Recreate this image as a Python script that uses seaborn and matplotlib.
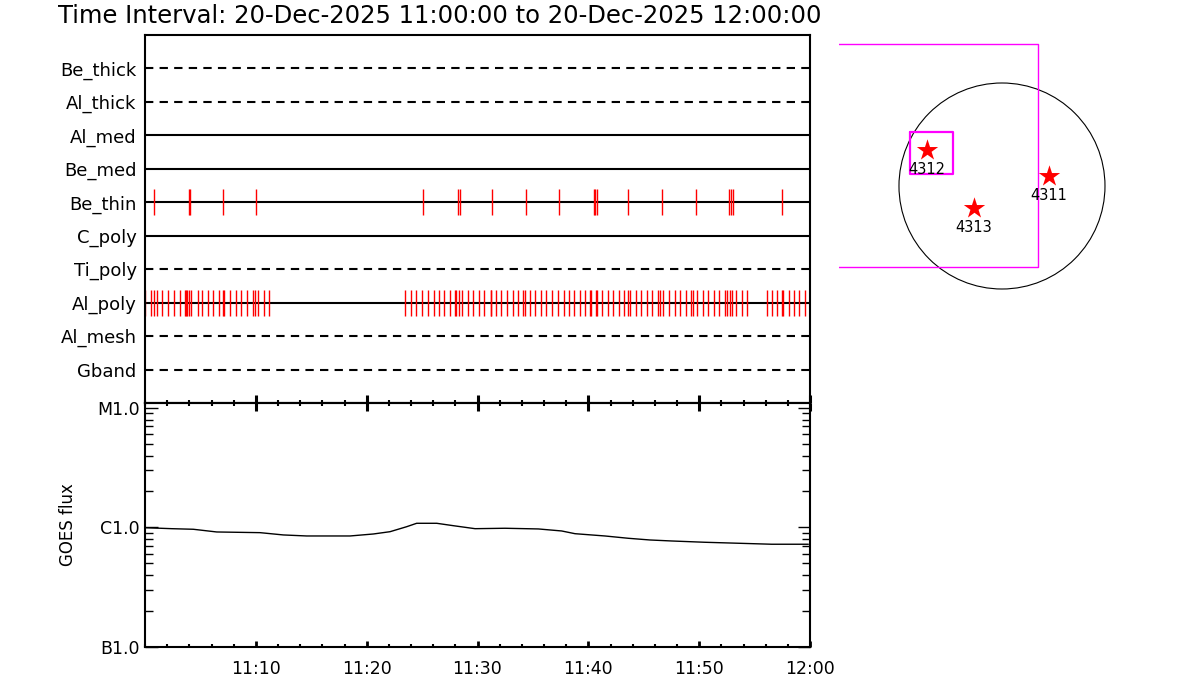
import numpy as np
import pandas as pd
import matplotlib
matplotlib.use("Agg")
import matplotlib.pyplot as plt
from matplotlib.patches import Circle
from matplotlib.ticker import LogLocator, NullFormatter, FixedLocator, MultipleLocator
import seaborn as sns

# ---- data ----
title = "Time Interval: 20-Dec-2025 11:00:00 to 20-Dec-2025 12:00:00"

detectors = ["Be_thick", "Al_thick", "Al_med", "Be_med", "Be_thin",
             "C_poly", "Ti_poly", "Al_poly", "Al_mesh", "Gband"]
dashed = ["Be_thick", "Al_thick", "Ti_poly", "Al_mesh", "Gband"]

# exposure times, minutes after 11:00
be_thin_times = [0.84, 3.94, 4.09, 7.06, 10.04, 25.11, 28.21, 28.42, 31.34, 34.40,
                 37.38, 40.48, 40.60, 40.76, 43.61, 46.68, 49.69, 52.72, 52.90,
                 53.08, 57.50]
al_poly_times = [0.03, 0.57, 0.78, 1.11, 1.56, 2.10, 2.59, 3.13, 3.58, 3.70, 3.79,
                 4.00, 4.18, 4.76, 5.17, 5.66, 6.16, 6.65, 7.01, 7.16, 7.70, 8.18,
                 8.69, 9.18, 9.72, 9.95, 10.22, 10.76, 11.22,
                 23.49, 24.03, 24.48, 25.02, 25.53, 26.05, 26.55, 27.01, 27.55,
                 28.00, 28.09, 28.36, 28.63, 29.17, 29.62, 30.11, 30.61, 31.19,
                 31.25, 31.64, 32.15, 32.66, 33.18, 33.68, 34.13, 34.26, 34.74,
                 35.19, 35.70, 36.21, 36.72, 37.24, 37.78, 38.23, 38.73, 39.22,
                 39.70, 40.18, 40.27, 40.69, 40.81, 41.26, 41.78, 42.25, 42.77,
                 43.25, 43.58, 43.73, 44.27, 44.78, 45.29, 45.77, 46.29, 46.47,
                 46.71, 47.31, 47.79, 48.30, 48.81, 49.29, 49.47, 49.81, 50.32,
                 50.80, 51.31, 51.82, 52.31, 52.54, 52.81, 52.94, 53.36, 53.84,
                 54.34, 56.10, 56.57, 57.05, 57.45, 57.59, 58.13, 58.56, 59.04,
                 59.55]
events = {"Be_thin": be_thin_times, "Al_poly": al_poly_times}

goes_minutes = [0.0, 2.41, 4.36, 6.47, 10.38, 12.48, 14.59, 18.50, 20.60, 22.11,
                23.61, 24.51, 26.32, 27.82, 29.78, 32.48, 35.49, 37.59, 38.80,
                41.50, 43.61, 45.55, 47.51, 50.52, 53.52, 56.54, 59.85]
goes_flux = [0.996e-6, 0.977e-6, 0.966e-6, 0.917e-6, 0.905e-6, 0.866e-6, 0.849e-6,
             0.849e-6, 0.882e-6, 0.922e-6, 1.015e-6, 1.084e-6, 1.084e-6, 1.035e-6,
             0.977e-6, 0.985e-6, 0.972e-6, 0.935e-6, 0.887e-6, 0.849e-6, 0.812e-6,
             0.786e-6, 0.771e-6, 0.752e-6, 0.738e-6, 0.724e-6, 0.724e-6]

time_ticks = [10, 20, 30, 40, 50, 60]
time_labels = ["11:10", "11:20", "11:30", "11:40", "11:50", "12:00"]
flux_ticks = [1e-7, 1e-6, 1e-5]
flux_labels = ["B1.0", "C1.0", "M1.0"]

# map panel, arcsec
ar_names = ["4312", "4311", "4313"]
ar_x = [-699, 438, -261]
ar_y = [336, 93, -205]
disk_radius = 960
fov_x = [-1700, 336, 336, -1700]
fov_y = [1323, 1323, -755, -755]
box_x = [-857, -457, -457, -857, -857]
box_y = [503, 503, 112, 112, 503]

# ---- plot ----
sns.set_theme(style="white")
plt.rcParams["font.family"] = ["DejaVu Sans"]
plt.rcParams["text.color"] = "black"
plt.rcParams["axes.labelcolor"] = "black"
plt.rcParams["xtick.color"] = "black"
plt.rcParams["ytick.color"] = "black"

fig = plt.figure(figsize=(12, 7), dpi=100)
ax1 = fig.add_axes([145 / 1200, 1 - 403 / 700, 665 / 1200, 368 / 700])
ax2 = fig.add_axes([145 / 1200, 1 - 647 / 700, 665 / 1200, 244 / 700], sharex=ax1)
ax3 = fig.add_axes([839 / 1200, 1 - 300 / 700, 300 / 1200, 270 / 700])

fig.text(58 / 1200, 1 - 16 / 700, title, fontsize=17.5, va="center", ha="left")

# detector rows
n = len(detectors)
for i, name in enumerate(detectors):
    yrow = n - i
    ls = (0, (4, 3)) if name in dashed else "-"
    ax1.axhline(yrow, color="black", lw=1.5, ls=ls, zorder=1)
    if name in events:
        ax1.vlines(events[name], yrow - 0.39, yrow + 0.39, color="red", lw=1.0, zorder=2)
ax1.set_ylim(0, n + 1)
ax1.set_yticks(range(n, 0, -1))
ax1.set_yticklabels(detectors, fontsize=13)
ax1.tick_params(axis="y", length=0, pad=6)
ax1.tick_params(axis="x", which="both", bottom=True, top=False, direction="in",
                labelbottom=False)
ax1.tick_params(axis="x", which="major", length=6, width=2.2)
ax1.tick_params(axis="x", which="minor", length=2.5, width=1.5)
for sp in ax1.spines.values():
    sp.set_linewidth(1.5)
    sp.set_color("black")

# GOES
goes = pd.DataFrame({"minute": goes_minutes, "flux": goes_flux})
sns.lineplot(data=goes, x="minute", y="flux", ax=ax2, color="black", lw=1.0)
ax2.set_yscale("log")
ax2.set_ylim(1e-7, 1.1e-5)
ax2.set_xlim(0, 60)
ax2.yaxis.set_major_locator(FixedLocator(flux_ticks))
ax2.set_yticklabels(flux_labels, fontsize=12.5)
ax2.yaxis.set_minor_locator(LogLocator(base=10, subs=np.arange(2, 10)))
ax2.yaxis.set_minor_formatter(NullFormatter())
ax2.set_xticks(time_ticks)
ax2.set_xticklabels(time_labels, fontsize=12.5)
ax2.xaxis.set_minor_locator(MultipleLocator(2))
ax2.set_xlabel("")
ax2.set_ylabel("GOES flux", fontsize=12, labelpad=14)
ax2.tick_params(axis="x", which="both", bottom=True, top=False, direction="in", pad=9)
ax2.tick_params(axis="x", which="major", length=4, width=2)
ax2.tick_params(axis="x", which="minor", length=2, width=1.5)
ax2.tick_params(axis="y", which="both", left=True, right=True, direction="in", pad=4)
ax2.tick_params(axis="y", which="major", length=9, width=1)
ax2.tick_params(axis="y", which="minor", length=6, width=1)
for sp in ax2.spines.values():
    sp.set_linewidth(1.5)
    sp.set_color("black")

# ticks on the shared boundary, pointing down into the GOES panel
top = ax2.secondary_xaxis("top")
top.set_xticks(time_ticks)
top.set_xticklabels([])
top.xaxis.set_minor_locator(MultipleLocator(2))
top.tick_params(axis="x", which="both", direction="in")
top.tick_params(axis="x", which="major", length=6, width=2.2)
top.tick_params(axis="x", which="minor", length=2.5, width=1.5)
top.spines["top"].set_linewidth(1.5)

# map panel
px = 9.32
ax3.set_xlim(-1519, -1519 + 300 * px)
ax3.set_ylim(186 * px - 300 * px, 186 * px - 30 * px)
ax3.set_axis_off()
ax3.add_patch(Circle((0, 0), disk_radius, fill=False, color="black", lw=0.8))
ax3.plot(fov_x, fov_y, color="#ff00ff", lw=1.0, clip_on=True)
ax3.plot(box_x, box_y, color="#ff00ff", lw=1.6)
ar = pd.DataFrame({"x": ar_x, "y": ar_y, "name": ar_names})
sns.scatterplot(data=ar, x="x", y="y", ax=ax3, marker="*", s=260, color="red",
                edgecolor="red", linewidth=0, zorder=3, legend=False)
for _, r in ar.iterrows():
    ax3.text(r["x"], r["y"] - 180, r["name"], fontsize=10.5, ha="center", va="center")
ax3.set_xlabel("")
ax3.set_ylabel("")

fig.savefig("out.png", dpi=100)
